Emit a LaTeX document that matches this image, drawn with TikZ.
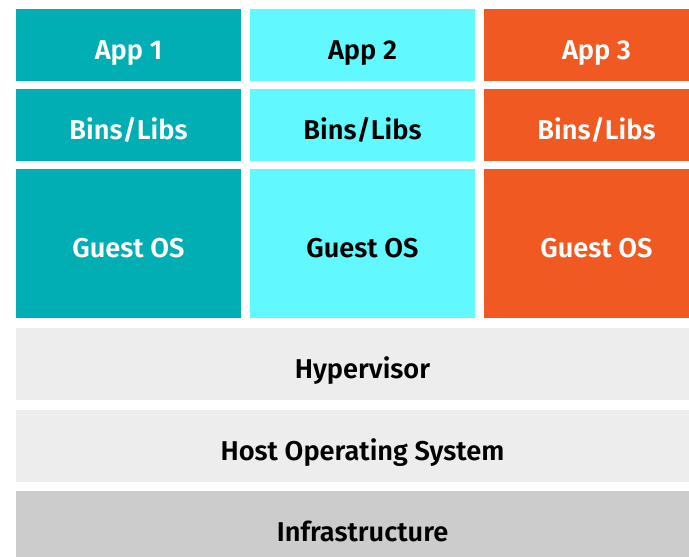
\documentclass[tikz,border=0pt]{standalone}
\usepackage{fontspec}
\setmainfont{Fira Sans}[BoldFont={Fira Sans SemiBold}]
\definecolor{teal1}{HTML}{00AEB3}
\definecolor{cyan1}{HTML}{62F8FF}
\definecolor{orange1}{HTML}{F05A22}
\definecolor{lgray}{HTML}{EDEDED}
\definecolor{mgray}{HTML}{CCCCCC}
\begin{document}
\begin{tikzpicture}[x=1pt,y=-1pt,
  blk/.style={rectangle, inner sep=0pt, minimum width=225pt, font=\fontsize{27.2}{29}\selectfont\bfseries, text height=28pt, text depth=0pt},
  wide/.style={rectangle, inner sep=0pt, minimum width=693pt, font=\fontsize{27.2}{29}\selectfont\bfseries, text height=28pt, text depth=0pt, text=black}]
\useasboundingbox (0,0) rectangle (689,557);
\clip (0,0) rectangle (689,557);
% column 1
\node[blk, fill=teal1, text=white, minimum height=72pt] (a1) at (128.5,45) {App 1};
\node[blk, fill=teal1, text=white, minimum height=72pt] (b1) at (128.5,125) {Bins/Libs};
\node[blk, fill=teal1, text=white, minimum height=149pt] (g1) at (128.5,243.5) {Guest OS};
% column 2
\node[blk, fill=cyan1, text=black, minimum height=72pt] (a2) at (362.5,45) {App 2};
\node[blk, fill=cyan1, text=black, minimum height=72pt] (b2) at (362.5,125) {Bins/Libs};
\node[blk, fill=cyan1, text=black, minimum height=149pt] (g2) at (362.5,243.5) {Guest OS};
% column 3
\node[blk, fill=orange1, text=white, minimum height=72pt] (a3) at (596.5,45) {App 3};
\node[blk, fill=orange1, text=white, minimum height=72pt] (b3) at (596.5,125) {Bins/Libs};
\node[blk, fill=orange1, text=white, minimum height=149pt] (g3) at (596.5,243.5) {Guest OS};
% bottom layers
\node[wide, fill=lgray, minimum height=72pt] (hv) at (362.5,364) {Hypervisor};
\node[wide, fill=lgray, minimum height=72pt] (host) at (362.5,446) {Host Operating System};
\node[wide, fill=mgray, minimum height=72pt] (infra) at (362.5,527) {Infrastructure};
\end{tikzpicture}
\end{document}
